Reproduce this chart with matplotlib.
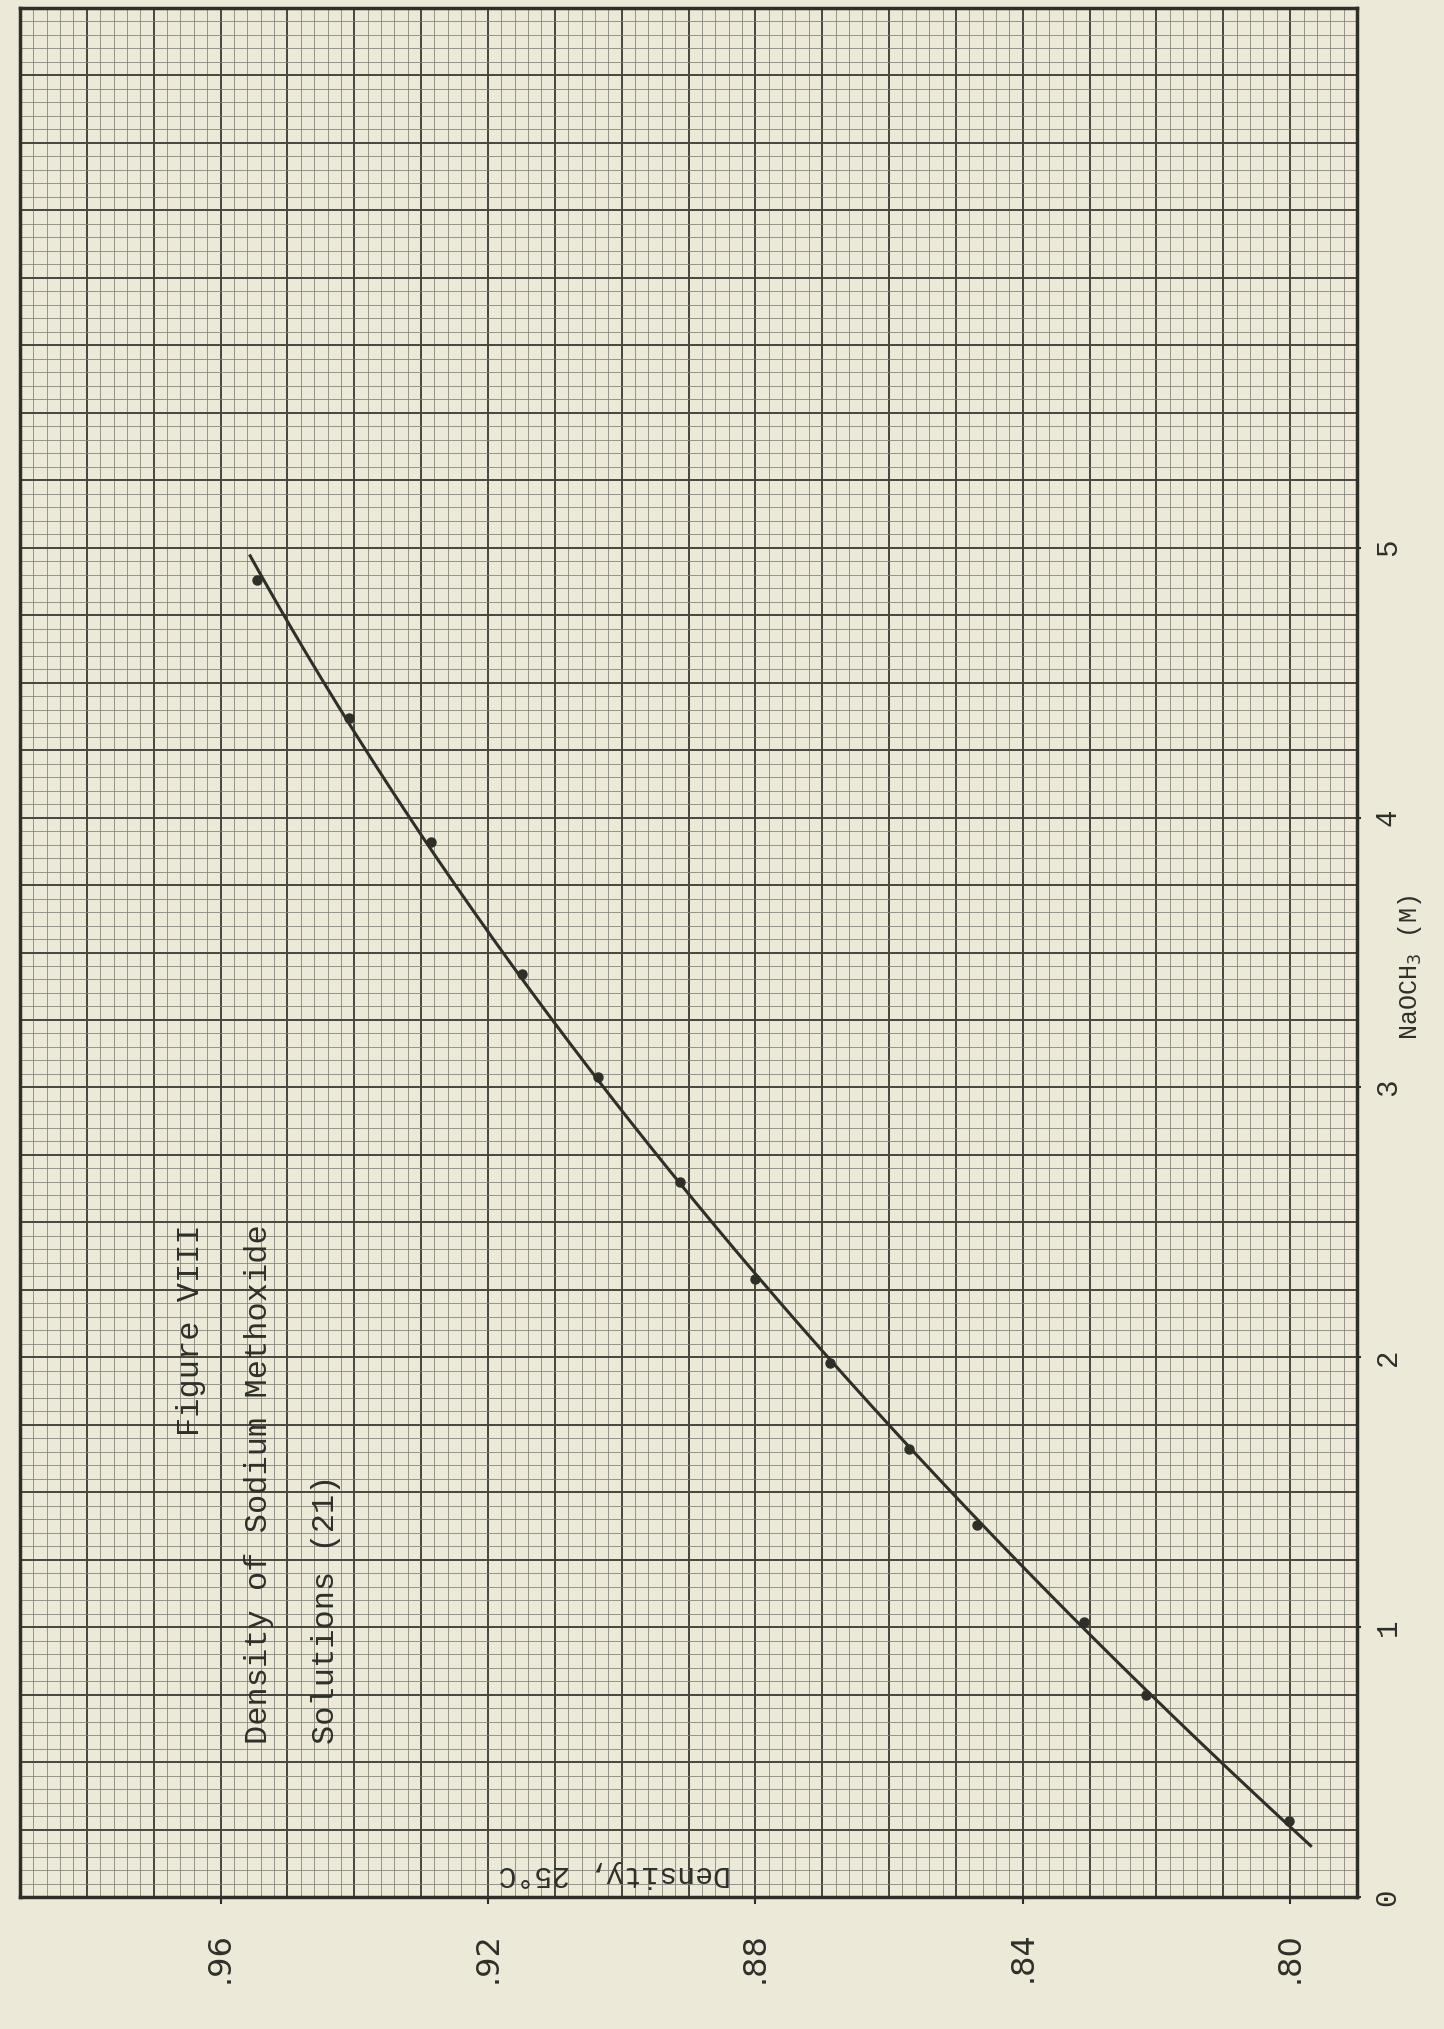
import numpy as np
import matplotlib
matplotlib.use("Agg")
import matplotlib.pyplot as plt

# ---------------- data ----------------
conc_M = [0.28, 0.75, 1.02, 1.38, 1.66, 1.98, 2.29, 2.65, 3.04, 3.42, 3.91, 4.37, 4.88]
density = [0.8002, 0.8215, 0.8309, 0.8469, 0.8570, 0.8689, 0.8800, 0.8913,
           0.9036, 0.9149, 0.9285, 0.9408, 0.9546]
curve_range_M = [0.19, 4.97]          # where the drawn curve starts / ends

density_ticks = [0.80, 0.84, 0.88, 0.92, 0.96]
density_ticklabels = [".80", ".84", ".88", ".92", ".96"]
conc_ticks = [0, 1, 2, 3, 4, 5]
conc_ticklabels = ["0", "1", "2", "3", "4", "5"]

title_lines = ["Figure VIII", "Density of Sodium Methoxide", "Solutions (21)"]
xlabel_text = "Density, 25°C"
ylabel_text = "NaOCH$_3$ (M)"

# ---------------- figure ----------------
W, H = 1444, 2029
paper = "#ece9d8"
ink = "#2f2f2a"
fig = plt.figure(figsize=(W / 100, H / 100), dpi=100, facecolor=paper)

def fx(px):
    return px / W

def fy(py):
    return 1 - py / H

left_px, right_px, bottom_px, top_px = 20, 1357, 1897, 8
ax = fig.add_axes([fx(left_px), fy(bottom_px), fx(right_px) - fx(left_px), fy(top_px) - fy(bottom_px)])
ax.set_facecolor(paper)

d_lo, d_hi = 0.79, 0.99
m_lo, m_hi = 0.0, 7.0
ax.set_xlim(d_hi, d_lo)      # density increases to the left (rotated page)
ax.set_ylim(m_lo, m_hi)

# graph-paper grid
minor_d = np.arange(0, 101) * 0.002 + d_lo
for i, xv in enumerate(minor_d):
    major = (i % 5 == 0)
    ax.axvline(xv, color="#46463e" if major else "#85857a",
               lw=1.4 if major else 0.6, zorder=1)
minor_m = np.arange(0, 141) * 0.05 + m_lo
for i, yv in enumerate(minor_m):
    major = (i % 5 == 0)
    ax.axhline(yv, color="#46463e" if major else "#85857a",
               lw=1.4 if major else 0.6, zorder=1)

# smooth curve through the points
coef = np.polyfit(conc_M, density, 2)
mm = np.linspace(curve_range_M[0], curve_range_M[1], 200)
ax.plot(np.polyval(coef, mm), mm, color=ink, lw=2.2, zorder=3)
ax.plot(density, conc_M, "o", color=ink, ms=6.5, zorder=4)

# spines
for s in ax.spines.values():
    s.set_linewidth(2.5)
    s.set_color(ink)
    s.set_zorder(5)

# ticks
ax.set_xticks(density_ticks)
ax.set_xticklabels(density_ticklabels, rotation=90, fontsize=23,
                   family="DejaVu Sans", color=ink)
ax.tick_params(axis="x", direction="out", length=5, width=1.5, color=ink, pad=20)
for lab in ax.get_xticklabels():
    lab.set_verticalalignment("top")

ax.yaxis.tick_right()
ax.set_yticks(conc_ticks)
ax.set_yticklabels(conc_ticklabels, rotation=90, fontsize=21,
                   family="Liberation Mono", color=ink)
ax.tick_params(axis="y", direction="out", length=3, width=1.5, color=ink, pad=9)
for lab in ax.get_yticklabels():
    lab.set_verticalalignment("center")

# axis titles (placed as on the rotated sheet)
fig.text(fx(1410), fy(968), ylabel_text, rotation=90, ha="center", va="center",
         fontsize=18, family="Liberation Mono", color=ink)
fig.text(fx(615), fy(1874), xlabel_text, rotation=180, ha="center", va="center",
         fontsize=21.5, family="Liberation Mono", color=ink, zorder=6)

# title block
title_pos = [(191, 1436), (259, 1744), (326, 1744)]
for txt, (px, py) in zip(title_lines, title_pos):
    fig.text(fx(px), fy(py), txt, rotation=90, ha="center", va="bottom",
             fontsize=23, family="Liberation Mono", color=ink, zorder=6)

fig.savefig("out.png", dpi=100, facecolor=paper)
